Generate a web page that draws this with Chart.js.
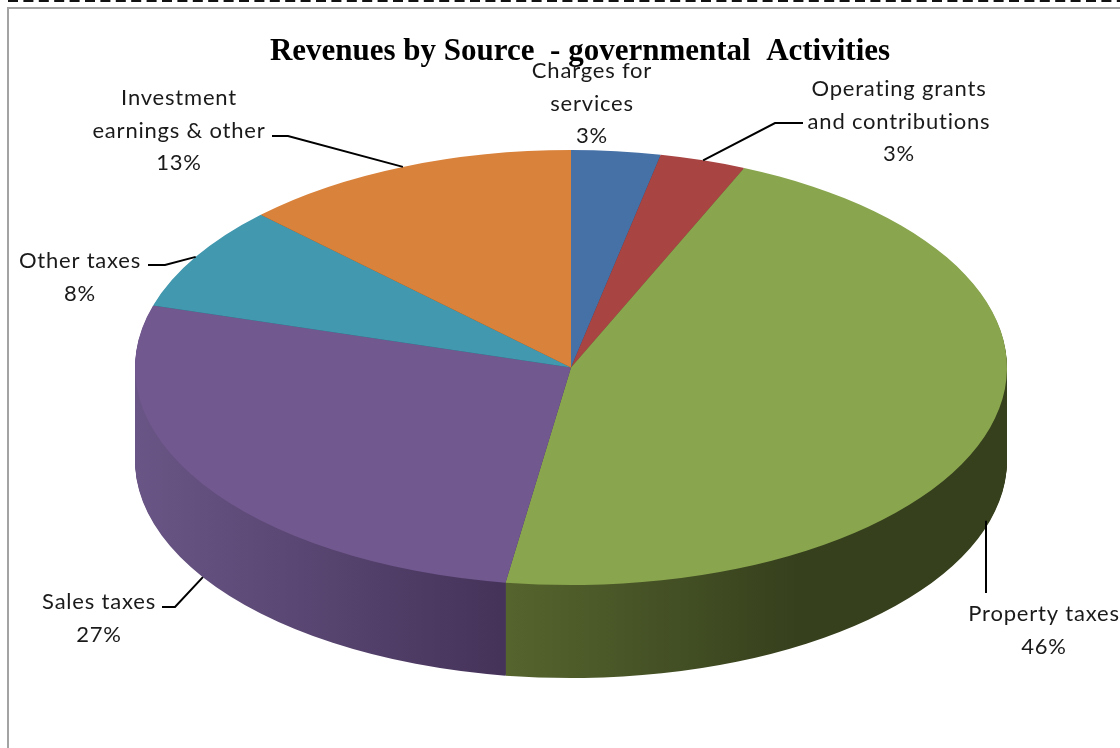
<!DOCTYPE html>
<html>
<head>
<meta charset="utf-8">
<title>Revenues by Source</title>
<script src="https://cdn.jsdelivr.net/npm/chart.js@4"></script>
<style>
  html, body { margin: 0; padding: 0; background: #fff; }
  canvas { display: block; }
</style>
</head>
<body>
<canvas id="revenue-chart" width="1120" height="748"></canvas>
<script>
const titleText = "Revenues by Source  - governmental  Activities";
const categories = ["Charges for services", "Operating grants and contributions", "Property taxes", "Sales taxes", "Other taxes", "Investment earnings & other"];
const shares = [3.3, 3.2, 45.9, 27.2, 7.8, 12.6];
const sliceColors = ["#4571a7", "#a84543", "#89a54e", "#71588f", "#4198af", "#d9823b"];

// side wall shading, [offset across the pie, colour]
const wallShades = [
  [[0, "#2c4568"], [1, "#2c4568"]],
  [[0, "#692b2a"], [1, "#692b2a"]],
  [[0.42, "#56652e"], [0.76, "#36401d"]],
  [[0, "#6a5686"], [0.42, "#45335a"]],
  [[0, "#285f6d"], [1, "#285f6d"]],
  [[0, "#884f23"], [1, "#884f23"]],
];

// label lines and where they sit, leader goes from the label to the slice edge
const labelLines = [
  ["Charges for", "services"],
  ["Operating grants", "and contributions"],
  ["Property taxes"],
  ["Sales taxes"],
  ["Other taxes"],
  ["Investment", "earnings & other"],
];
const labelCenters = [[592, 71], [899, 89], [1044, 614], [99, 602], [80, 261], [179, 98]];
const leaderStarts = [null, [803, 123], [986, 593], [162, 607], [148, 265], [272, 136]];
const leaderElbows = [null, [775, 123], [986, 593], [175, 607], [165, 265], [288, 136]];

const PIE_RADIUS = 436;
const SQUASH = 0.4989;
const DEPTH = 93;
const LINE_HEIGHT = 32.5;

const piePerspective = {
  id: "piePerspective",
  afterLayout(chart) {
    // title sits a bit right of the pie centre in the original
    chart.titleBlock.left += 9;
    chart.titleBlock.right += 9;
  },
  beforeDraw(chart) {
    const ctx = chart.ctx;
    ctx.save();
    ctx.strokeStyle = "#a3a3a3";
    ctx.lineWidth = 2;
    ctx.strokeRect(8, 8, 1300, 900);
    ctx.strokeStyle = "#111";
    ctx.setLineDash([10, 5.4]);
    ctx.beginPath();
    ctx.moveTo(8, 1);
    ctx.lineTo(1120, 1);
    ctx.stroke();
    ctx.restore();
  },
  beforeDatasetsDraw(chart) {
    const ctx = chart.ctx;
    const arcs = chart.getDatasetMeta(0).data;
    const { x: cx, y: cy } = arcs[0];
    ctx.save();
    ctx.translate(0, cy);
    ctx.scale(1, SQUASH);
    ctx.translate(0, -cy);

    const fills = wallShades.map((stops) => {
      const g = ctx.createLinearGradient(cx - PIE_RADIUS, 0, cx + PIE_RADIUS, 0);
      stops.forEach(([at, color]) => g.addColorStop(at, color));
      return g;
    });
    // stack the same arcs downwards to build the side wall
    for (let d = DEPTH; d > 0; d--) {
      ctx.save();
      ctx.translate(0, d / SQUASH);
      arcs.forEach((arc, i) => {
        const original = arc.options;
        arc.options = Object.assign(Object.create(original), { backgroundColor: fills[i], borderWidth: 0 });
        arc.draw(ctx);
        arc.options = original;
      });
      ctx.restore();
    }
  },
  afterDatasetsDraw(chart) {
    const ctx = chart.ctx;
    ctx.restore();
    const arcs = chart.getDatasetMeta(0).data;

    ctx.save();
    ctx.strokeStyle = "#000";
    ctx.lineWidth = 2;
    arcs.forEach((arc, i) => {
      if (!leaderStarts[i]) return;
      const mid = (arc.startAngle + arc.endAngle) / 2;
      let endX = arc.x + PIE_RADIUS * Math.cos(mid);
      let endY = arc.y + PIE_RADIUS * SQUASH * Math.sin(mid);
      if (Math.sin(mid) > 0) endY += DEPTH; // front slices end on the wall
      if (leaderStarts[i][0] === leaderElbows[i][0]) endX = leaderElbows[i][0];
      ctx.beginPath();
      ctx.moveTo(leaderStarts[i][0], leaderStarts[i][1]);
      ctx.lineTo(leaderElbows[i][0], leaderElbows[i][1]);
      ctx.lineTo(endX, endY);
      ctx.stroke();
    });

    ctx.fillStyle = "#1a1a1a";
    ctx.font = "22px Lato";
    ctx.textAlign = "center";
    ctx.textBaseline = "middle";
    ctx.letterSpacing = "0.8px";
    labelLines.forEach((lines, i) => {
      const [x, y] = labelCenters[i];
      const rows = [...lines, Math.round(shares[i]) + "%"];
      rows.forEach((row, r) => ctx.fillText(row, x, y + r * LINE_HEIGHT));
    });
    ctx.restore();
  },
};

new Chart(document.getElementById("revenue-chart"), {
  type: "pie",
  data: {
    labels: categories,
    datasets: [{
      data: shares,
      backgroundColor: sliceColors,
      borderWidth: 0,
      clip: false,
    }],
  },
  options: {
    responsive: false,
    animation: false,
    radius: PIE_RADIUS,
    layout: { padding: { left: 22, right: 0, top: 0, bottom: 83 } },
    plugins: {
      legend: { display: false },
      tooltip: { enabled: false },
      title: {
        display: true,
        text: titleText,
        color: "#000",
        font: { family: "'Liberation Serif'", size: 31, weight: "bold", lineHeight: 1.2 },
        padding: { top: 33, bottom: 0 },
      },
    },
  },
  plugins: [piePerspective],
});
</script>
</body>
</html>
